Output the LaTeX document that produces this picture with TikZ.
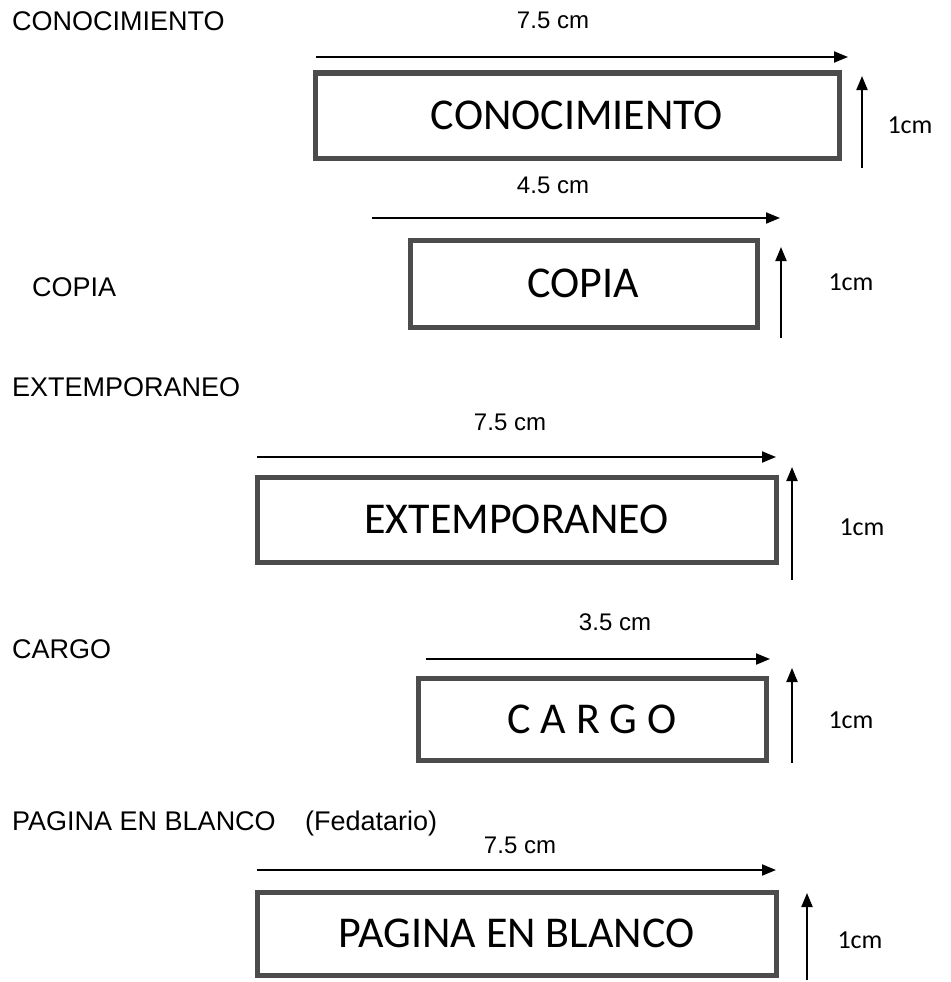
\documentclass[tikz,border=0pt]{standalone}
\usepackage{fontspec}
\setmainfont{Liberation Sans}
\newfontfamily\boxfont{Carlito}
\usetikzlibrary{arrows.meta}

\begin{document}
\begin{tikzpicture}[x=1pt,y=-1pt]
\useasboundingbox (0,0) rectangle (950,982);

\begin{scope}[every node/.style={anchor=base west,inner sep=0pt,font=\fontsize{27}{30}\selectfont}]
	\node (conoc) at (12,31) {CONOCIMIENTO};
	\node (copia) at (32,296) {COPIA};
	\node (extem) at (12,396) {EXTEMPORANEO};
	\node (cargo) at (12,658) {CARGO};
	\node (pagina) at (12,830) {PAGINA EN BLANCO};
	\node (fedat) at (305,830) {(Fedatario)};
\end{scope}

\begin{scope}[every node/.style={draw=black!70,line width=5pt,inner sep=0pt,font=\boxfont\fontsize{44}{48}\selectfont}]
	\node[minimum width=524,minimum height=85] (b1) at (577,115.5) {CONOCIMIENTO};
	\node[minimum width=347,minimum height=87] (b2) at (583.5,283.5) {COPIA};
	\node[minimum width=519,minimum height=85] (b3) at (516.5,519.5) {EXTEMPORANEO};
	\node[minimum width=348,minimum height=82] (b4) at (592,719) {C A R G O};
	\node[minimum width=519,minimum height=83] (b5) at (516.5,933.5) {PAGINA EN BLANCO};
\end{scope}

% medidas
\coordinate (h1a) at (316,57);  \coordinate (h1b) at (848,57);
\coordinate (h2a) at (372,218); \coordinate (h2b) at (780,218);
\coordinate (h3a) at (257,457); \coordinate (h3b) at (776,457);
\coordinate (h4a) at (426,659); \coordinate (h4b) at (770,659);
\coordinate (h5a) at (257,870); \coordinate (h5b) at (776,870);
\coordinate (v1a) at (862,168); \coordinate (v1b) at (862,76);
\coordinate (v2a) at (781,338); \coordinate (v2b) at (781,247);
\coordinate (v3a) at (792,580); \coordinate (v3b) at (792,467);
\coordinate (v4a) at (792,763); \coordinate (v4b) at (792,668);
\coordinate (v5a) at (807,980); \coordinate (v5b) at (807,893);

\begin{scope}[>={Triangle[length=14pt,width=11pt]},
every edge/.style={draw=black,line width=2pt}]
	\path [->] (h1a) edge (h1b);
	\path [->] (h2a) edge (h2b);
	\path [->] (h3a) edge (h3b);
	\path [->] (h4a) edge (h4b);
	\path [->] (h5a) edge (h5b);
	\path [->] (v1a) edge (v1b);
	\path [->] (v2a) edge (v2b);
	\path [->] (v3a) edge (v3b);
	\path [->] (v4a) edge (v4b);
	\path [->] (v5a) edge (v5b);
\end{scope}

\begin{scope}[every node/.style={inner sep=0pt,font=\fontsize{24}{28}\selectfont}]
	\node (m1) at (553,20) {7.5 cm};
	\node (m2) at (553,185) {4.5 cm};
	\node (m3) at (510,422) {7.5 cm};
	\node (m4) at (615,622) {3.5 cm};
	\node (m5) at (520,845) {7.5 cm};
\end{scope}

\begin{scope}[every node/.style={inner sep=0pt,font=\boxfont\fontsize{26}{30}\selectfont}]
	\node (c1) at (910,125) {1cm};
	\node (c2) at (851,282) {1cm};
	\node (c3) at (862,527) {1cm};
	\node (c4) at (851,720) {1cm};
	\node (c5) at (860,940) {1cm};
\end{scope}

\end{tikzpicture}
\end{document}
